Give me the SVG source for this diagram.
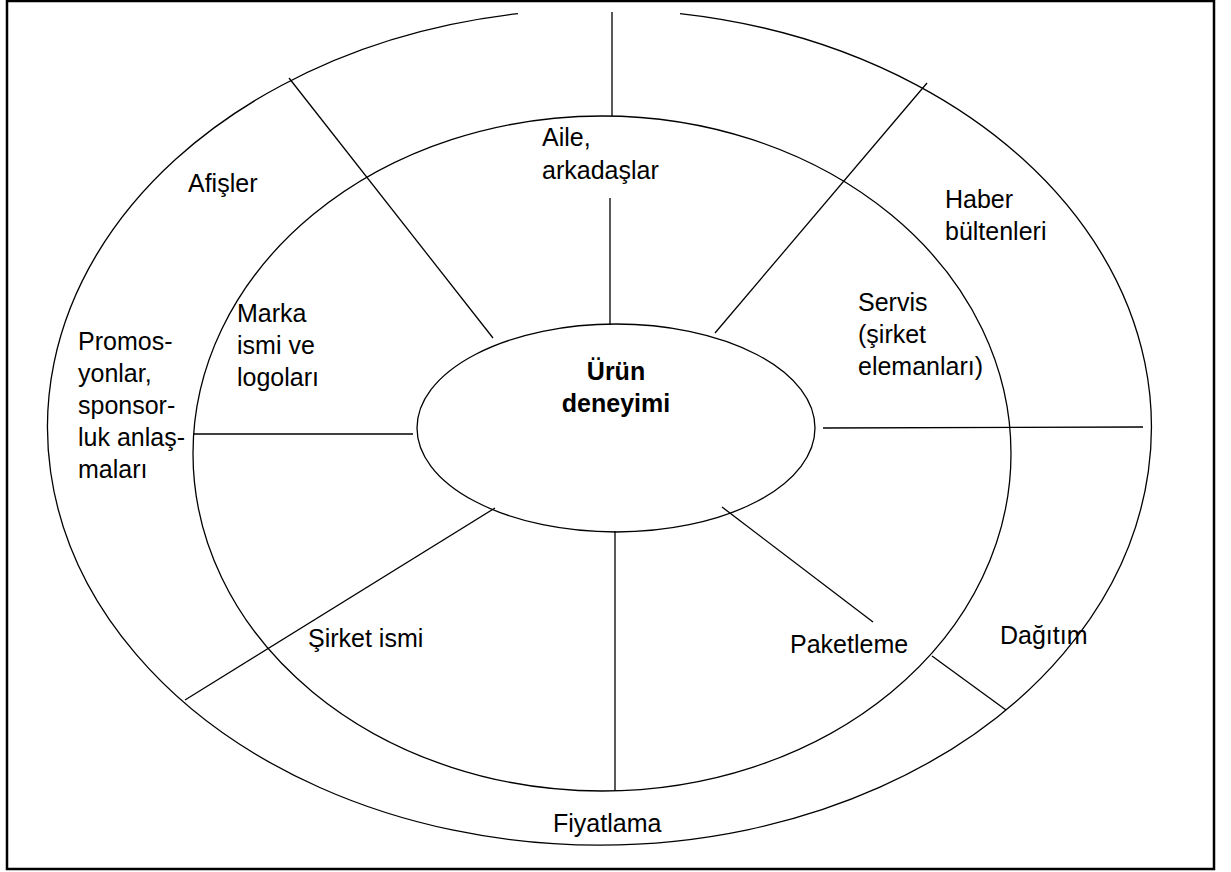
<svg xmlns="http://www.w3.org/2000/svg" width="1231" height="872" viewBox="0 0 1231 872">
  <style>
    .ring { fill: none; stroke: #000; stroke-width: 1.3; }
    .spoke { stroke: #000; stroke-width: 1.3; fill: none; }
    .lbl { font-family: "Liberation Sans", Arial, sans-serif; font-size: 25px; fill: #000; }
    .core { font-family: "Liberation Sans", Arial, sans-serif; font-size: 25px; font-weight: bold; fill: #000; text-anchor: middle; }
  </style>
  <rect x="0" y="0" width="1231" height="872" fill="#fff"/>
  <!-- page frame -->
  <rect x="7" y="1" width="1207" height="868" fill="none" stroke="#000" stroke-width="2.5"/>

  <!-- outer ring (open at the top) -->
  <g id="outer-ring">
    <path class="ring" d="M 680 13.6 A 552 418 0 1 1 518 13.7"/>
  </g>
  <!-- middle ring -->
  <g id="middle-ring">
    <ellipse class="ring" cx="602" cy="453.5" rx="409" ry="337.5"/>
  </g>

  <!-- spokes -->
  <g id="connectors">
    <line class="spoke" x1="612" y1="12" x2="612" y2="116"/>
    <line class="spoke" x1="289" y1="78" x2="493" y2="338"/>
    <line class="spoke" x1="610" y1="198" x2="610" y2="325"/>
    <line class="spoke" x1="927" y1="83" x2="715" y2="333"/>
    <line class="spoke" x1="193" y1="434" x2="413" y2="434"/>
    <line class="spoke" x1="823" y1="428" x2="1143" y2="427"/>
    <line class="spoke" x1="185" y1="700" x2="495" y2="508"/>
    <line class="spoke" x1="615" y1="531" x2="615" y2="791"/>
    <line class="spoke" x1="722" y1="507" x2="873" y2="622"/>
    <line class="spoke" x1="932" y1="656" x2="1006" y2="710"/>
  </g>

  <!-- centre -->
  <g id="urun-deneyimi">
    <ellipse class="ring" cx="616" cy="428" rx="199" ry="104" fill="#fff"/>
    <text class="core" x="616" y="380">Ürün</text>
    <text class="core" x="616" y="412">deneyimi</text>
  </g>

  <!-- middle ring labels -->
  <g id="aile">
    <text class="lbl" x="542" y="146">Aile,</text>
    <text class="lbl" x="542" y="179">arkadaşlar</text>
  </g>
  <g id="marka">
    <text class="lbl" x="237" y="322">Marka</text>
    <text class="lbl" x="237" y="354">ismi ve</text>
    <text class="lbl" x="237" y="386">logoları</text>
  </g>
  <g id="servis">
    <text class="lbl" x="858" y="311">Servis</text>
    <text class="lbl" x="858" y="343">(şirket</text>
    <text class="lbl" x="858" y="375">elemanları)</text>
  </g>
  <g id="sirket-ismi">
    <text class="lbl" x="308" y="647">Şirket ismi</text>
  </g>
  <g id="paketleme">
    <text class="lbl" x="790" y="653">Paketleme</text>
  </g>

  <!-- outer ring labels -->
  <g id="afisler">
    <text class="lbl" x="188" y="192">Afişler</text>
  </g>
  <g id="haber">
    <text class="lbl" x="945" y="208">Haber</text>
    <text class="lbl" x="945" y="240">bültenleri</text>
  </g>
  <g id="promosyonlar">
    <text class="lbl" x="78" y="350">Promos-</text>
    <text class="lbl" x="78" y="382">yonlar,</text>
    <text class="lbl" x="78" y="414">sponsor-</text>
    <text class="lbl" x="78" y="446">luk anlaş-</text>
    <text class="lbl" x="78" y="478">maları</text>
  </g>
  <g id="dagitim">
    <text class="lbl" x="1000" y="644">Dağıtım</text>
  </g>
  <g id="fiyatlama">
    <text class="lbl" x="553" y="832">Fiyatlama</text>
  </g>
</svg>
